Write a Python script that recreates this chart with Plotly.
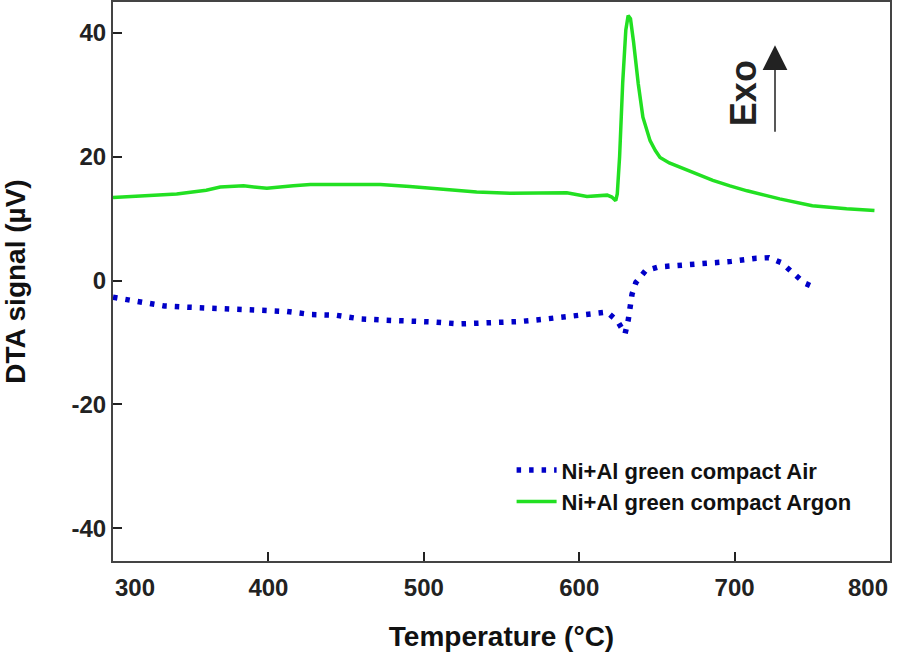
import plotly.graph_objects as go

# ---- data ----
temp_argon = [300, 320, 341, 360, 369, 384, 399, 416, 427, 448, 464, 472, 491, 513, 534,
              556, 577, 592, 605, 612, 618, 621, 623.5, 624.5, 626, 628, 630, 631.5, 633,
              635, 638, 641, 645.6, 649, 652, 658, 665, 675, 686, 697, 708, 729, 750, 772, 790]
dta_argon = [13.4, 13.7, 14.0, 14.6, 15.1, 15.3, 14.9, 15.3, 15.5, 15.5, 15.5, 15.5, 15.2, 14.8, 14.3,
             14.1, 14.2, 14.2, 13.6, 13.7, 13.8, 13.5, 12.9, 14.0, 20.0, 32.0, 40.5, 42.8, 42.3,
             38.5, 31.8, 26.4, 22.6, 21.0, 19.9, 19.0, 18.3, 17.2, 16.2, 15.3, 14.5, 13.2, 12.1, 11.6, 11.3]

temp_air = [300, 317, 333, 348, 364.5, 380, 396, 412, 428, 443.5, 459.6, 475.5, 491, 507, 523,
            539, 562.5, 578.6, 594, 610, 618, 624.8, 629.5, 631.6, 632.7, 634, 636.5, 642.7,
            651, 666.6, 682.5, 698, 714, 722, 730, 737, 745, 752.4]
dta_air = [-2.7, -3.5, -4.1, -4.3, -4.4, -4.6, -4.8, -5.0, -5.5, -5.6, -6.2, -6.4, -6.5, -6.7, -7.0,
           -6.9, -6.6, -6.2, -5.8, -5.4, -5.1, -6.6, -8.6, -6.3, -4.3, -2.2, -0.3, 1.6,
           2.2, 2.5, 2.7, 3.1, 3.6, 3.7, 2.9, 1.4, -0.4, -1.2]

x_ticks = [300, 400, 500, 600, 700, 800]
y_ticks = [-40, -20, 0, 20, 40]

FONT = "Liberation Sans"
TICK_FONT = dict(family=FONT, size=24, color="#222")

fig = go.Figure()
fig.add_trace(go.Scatter(
    x=temp_air, y=dta_air, mode="lines", name="<b>Ni+Al green compact Air</b>",
    line=dict(color="#0000c8", width=5.5, dash="4.5px,8px"),
))
fig.add_trace(go.Scatter(
    x=temp_argon, y=dta_argon, mode="lines", name="<b>Ni+Al green compact Argon</b>",
    line=dict(color="#22e022", width=3.5),
))

axis_common = dict(
    showline=True, linecolor="#444", linewidth=2, mirror=True,
    ticks="inside", ticklen=9, tickwidth=2, tickcolor="#222",
    showgrid=False, zeroline=False, automargin=False,
    tickfont=TICK_FONT,
)

# end labels (300, 800) are drawn inside the axis span as in the reference
x_ticktext = ["" if v in (x_ticks[0], x_ticks[-1]) else f"<b>{v}</b>" for v in x_ticks]

fig.update_xaxes(range=[300, 800], tickvals=x_ticks, ticktext=x_ticktext, ticklabelstandoff=4,
                 title=dict(text="<b>Temperature (°C)</b>", font=dict(family=FONT, size=28, color="#111"),
                            standoff=27),
                 **axis_common)
fig.update_yaxes(range=[-45.3, 45.0], tickvals=y_ticks,
                 ticktext=[f"<b>{v}</b>" for v in y_ticks],
                 title=dict(text="<b>DTA signal (µV)</b>", font=dict(family=FONT, size=28, color="#111"),
                            standoff=38),
                 **axis_common)

fig.add_annotation(x=x_ticks[0], y=0, xref="x", yref="paper", text=f"<b>{x_ticks[0]}</b>",
                   showarrow=False, xanchor="left", yanchor="top", yshift=-11, font=TICK_FONT)
fig.add_annotation(x=x_ticks[-1], y=0, xref="x", yref="paper", text=f"<b>{x_ticks[-1]}</b>",
                   showarrow=False, xanchor="right", yanchor="top", yshift=-11, font=TICK_FONT)

fig.add_annotation(x=726, y=38.0, xref="x", yref="y", text="", showarrow=True,
                   ax=0, ay=88, axref="pixel", ayref="pixel",
                   arrowhead=2, arrowsize=3.3, arrowwidth=1.5, arrowcolor="#222")
fig.add_annotation(x=705.5, y=30.3, xref="x", yref="y", text="<b>Exo</b>", showarrow=False,
                   textangle=-90, font=dict(family=FONT, size=36, color="#222"))

fig.update_layout(
    width=912, height=658,
    margin=dict(l=113, r=22, t=2, b=97, autoexpand=False),
    paper_bgcolor="white", plot_bgcolor="white",
    showlegend=True,
    legend=dict(x=0.513, y=0.2, xanchor="left", yanchor="top",
                bgcolor="rgba(0,0,0,0)", font=dict(family=FONT, size=22, color="#111"),
                tracegroupgap=0, itemwidth=40),
)

fig.write_html("out.html", config={"displayModeBar": False},
               post_script="document.body.style.margin='0';")
